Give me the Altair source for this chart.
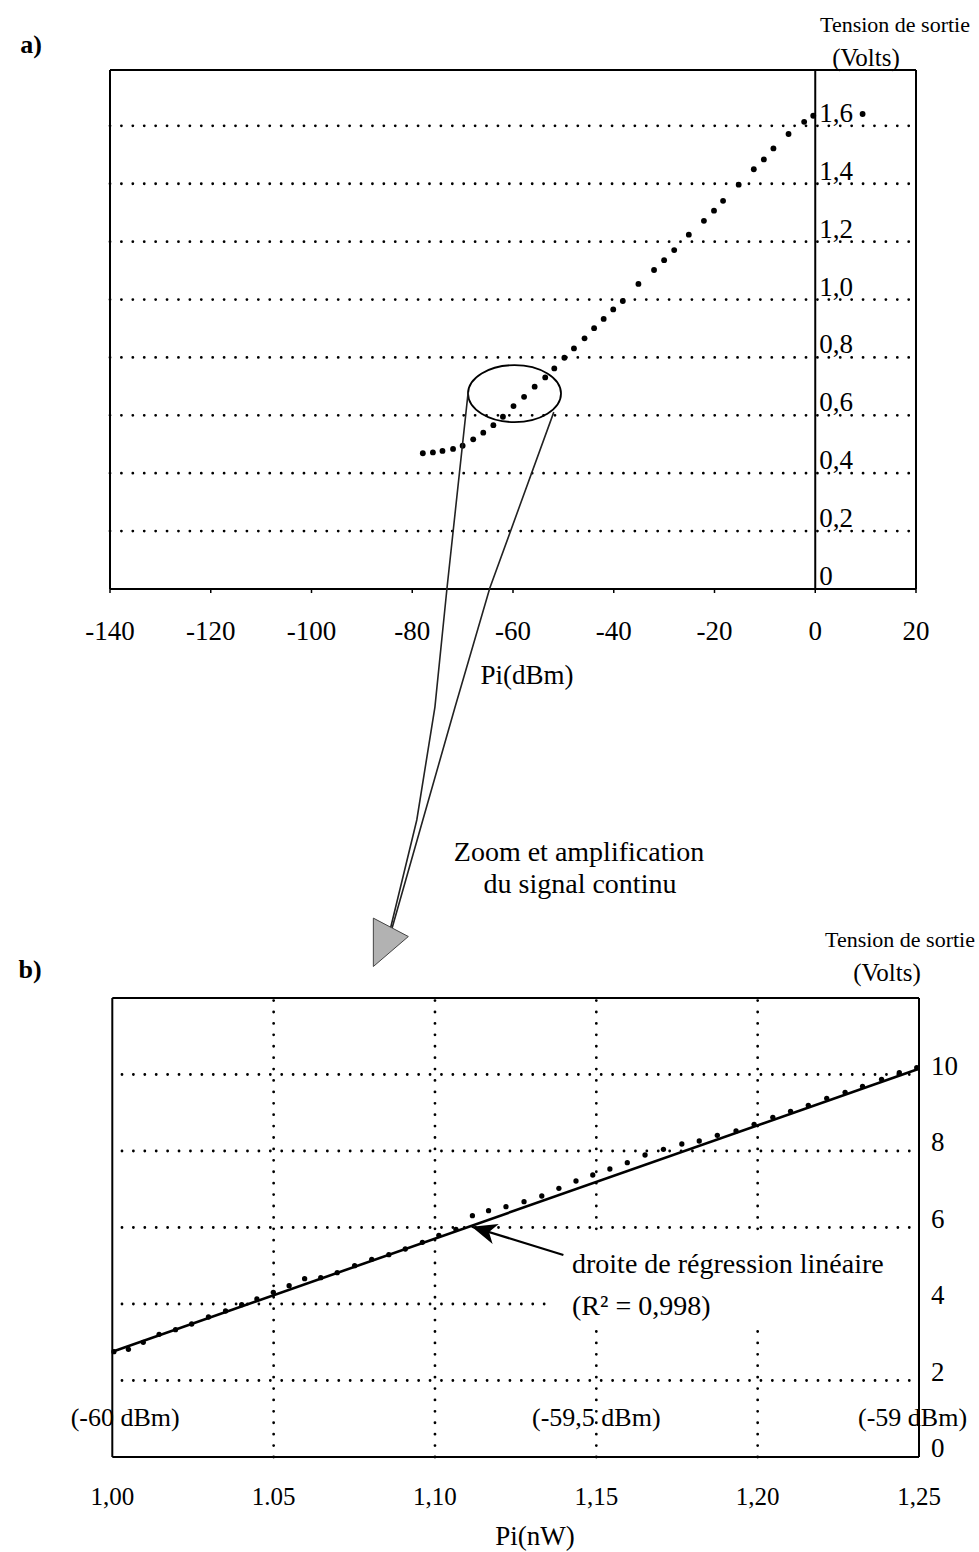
import altair as alt
import pandas as pd

SERIF = "Liberation Serif"

# ---------------- a) output voltage vs input power (dBm) ----------------
a_pi_dbm = [-77.9, -75.9, -74.0, -71.9, -70.0, -67.9, -65.9, -63.9, -62.0, -59.9,
            -57.8, -55.7, -53.6, -51.8, -49.8, -47.9, -45.8, -43.9, -42.0, -40.1,
            -38.2, -35.1, -32.0, -30.0, -28.0, -25.1, -22.1, -20.1, -18.3, -15.2,
            -12.2, -10.2, -8.3, -5.3, -2.2, -0.4, 9.4]
a_volts = [0.469, 0.472, 0.477, 0.484, 0.495, 0.517, 0.540, 0.566, 0.595, 0.632,
           0.664, 0.699, 0.731, 0.762, 0.799, 0.831, 0.866, 0.901, 0.933, 0.966,
           0.995, 1.054, 1.102, 1.136, 1.171, 1.224, 1.272, 1.307, 1.341, 1.397,
           1.450, 1.484, 1.522, 1.572, 1.614, 1.635, 1.641]

a_x_domain = [-140, 20]
a_y_domain = [0, 1.793]
a_x_ticks = [-140, -120, -100, -80, -60, -40, -20, 0, 20]
a_x_labels = ["-140", "-120", "-100", "-80", "-60", "-40", "-20", "0", "20"]
a_y_ticks = [0, 0.2, 0.4, 0.6, 0.8, 1.0, 1.2, 1.4, 1.6]
a_y_labels = ["0", "0,2", "0,4", "0,6", "0,8", "1,0", "1,2", "1,4", "1,6"]

# zoom call-out (panel a units): ellipse, two connector strokes, shaded head
callout_x = [-59.7]
callout_y = [0.675]
link_left_x = [-68.9, -73.1, -75.5, -79.1, -84.4]
link_left_y = [0.680, 0.0035, -0.408, -0.798, -1.178]
link_right_x = [-51.9, -64.6, -71.5, -77.9, -84.0]
link_right_y = [0.611, 0.0035, -0.408, -0.798, -1.171]
head_x = [-85.4]
head_y = [-1.212]

# ---------------- b) zoom on the -60 .. -59 dBm range (nW) ----------------
b_pi_nw = [1.0005, 1.0050, 1.0096, 1.0145, 1.0196, 1.0246, 1.0298, 1.0351, 1.0401, 1.0448,
           1.0499, 1.0548, 1.0596, 1.0646, 1.0697, 1.0751, 1.0804, 1.0857, 1.0908, 1.0961,
           1.1012, 1.1065, 1.1116, 1.1166, 1.1220, 1.1276, 1.1331, 1.1384, 1.1437, 1.1489,
           1.1542, 1.1596, 1.1651, 1.1708, 1.1765, 1.1819, 1.1875, 1.1933, 1.1989, 1.2047,
           1.2102, 1.2157, 1.2214, 1.2271, 1.2325, 1.2384, 1.2439, 1.2493]
b_volts = [2.753, 2.816, 2.999, 3.208, 3.328, 3.477, 3.660, 3.817, 3.982, 4.131,
           4.306, 4.478, 4.661, 4.688, 4.818, 5.001, 5.169, 5.289, 5.438, 5.613,
           5.796, 5.953, 6.308, 6.439, 6.544, 6.675, 6.824, 7.025, 7.216, 7.373,
           7.529, 7.694, 7.895, 8.044, 8.183, 8.261, 8.410, 8.523, 8.698, 8.881,
           9.038, 9.195, 9.378, 9.535, 9.692, 9.875, 10.047, 10.178]
fit_x = [1.00, 1.25]
fit_y = [2.75, 10.15]

b_x_domain = [1.0, 1.25]
b_y_domain = [0, 12]
b_x_ticks = [1.00, 1.05, 1.10, 1.15, 1.20, 1.25]
b_x_labels = ["1,00", "1.05", "1,10", "1,15", "1,20", "1,25"]
b_y_ticks = [0, 2, 4, 6, 8, 10]
b_y_labels = ["0", "2", "4", "6", "8", "10"]
b_dbm_x = [1.004, 1.15, 1.248]
b_dbm_labels = ["(-60 dBm)", "(-59,5 dBm)", "(-59 dBm)"]

# arrow pointing at the regression line (tail, tip)
fit_arrow_x = [1.1398, 1.1114]
fit_arrow_y = [5.281, 6.021]
# blank backing behind the regression caption
caption_box_x = [1.1355, 1.2485]
caption_box_y = [3.40, 5.73]

# ---------------- scales ----------------
XA = alt.Scale(domain=a_x_domain, range=[110, 916], nice=False, zero=False)
YA = alt.Scale(domain=a_y_domain, range=[589, 70], nice=False, zero=False)
XB = alt.Scale(domain=b_x_domain, range=[112.3, 919], nice=False, zero=False)
YB = alt.Scale(domain=b_y_domain, range=[1457, 998], nice=False, zero=False)


def qx(field, scale):
    return alt.X(field, type="quantitative", scale=scale, axis=None)


def qy(field, scale):
    return alt.Y(field, type="quantitative", scale=scale, axis=None)


DOTS = dict(strokeDash=[0.01, 11.4], strokeCap="round", strokeWidth=2.8, color="black")


def frame_df(xd, yd, axis_x=None):
    rows = [
        (xd[0], xd[1], yd[0], yd[0]),
        (xd[0], xd[1], yd[1], yd[1]),
        (xd[0], xd[0], yd[0], yd[1]),
        (xd[1], xd[1], yd[0], yd[1]),
    ]
    if axis_x is not None:
        rows.append((axis_x, axis_x, yd[0], yd[1]))
    return pd.DataFrame(rows, columns=["x", "x2", "y", "y2"])


def rules(df, xs, ys, **style):
    return alt.Chart(df).mark_rule(**style).encode(
        x=qx("x", xs), x2="x2", y=qy("y", ys), y2="y2")


def label(text, x, y, size, align="center", weight="normal"):
    return alt.Chart(pd.DataFrame({"t": [text]})).mark_text(
        font=SERIF, fontSize=size, align=align, baseline="middle",
        fontWeight=weight, color="black"
    ).encode(x=alt.value(x), y=alt.value(y), text="t:N")


# ---------------- panel a ----------------
a_grid = pd.DataFrame({"x": a_x_domain[0], "x2": a_x_domain[1],
                       "y": a_y_ticks[1:], "y2": a_y_ticks[1:]})
a_grid_layer = rules(a_grid, XA, YA, **DOTS)
a_frame_layer = rules(frame_df(a_x_domain, a_y_domain, axis_x=0), XA, YA,
                      color="black", strokeWidth=2)

a_ticks_df = pd.DataFrame({"x": a_x_ticks, "y": 0, "t": a_x_labels})
a_tick_marks = alt.Chart(a_ticks_df).mark_rule(color="black", strokeWidth=1.5).encode(
    x=qx("x", XA), y=qy("y", YA), y2=alt.value(593))
a_tick_text = alt.Chart(a_ticks_df).mark_text(
    font=SERIF, fontSize=27, align="center", baseline="middle", dy=43, color="black"
).encode(x=qx("x", XA), y=qy("y", YA), text="t:N")

a_ylab_df = pd.DataFrame({"x": 0, "y": a_y_ticks, "t": a_y_labels})
a_ylab_text = alt.Chart(a_ylab_df).mark_text(
    font=SERIF, fontSize=27, align="left", baseline="middle", dx=4, dy=-12, color="black"
).encode(x=qx("x", XA), y=qy("y", YA), text="t:N")

a_points = alt.Chart(pd.DataFrame({"x": a_pi_dbm, "y": a_volts})).mark_circle(
    size=34, color="black", opacity=1
).encode(x=qx("x", XA), y=qy("y", YA))

ELLIPSE = ("M1,0 C1,0.3386 0.5523,0.613 0,0.613 C-0.5523,0.613 -1,0.3386 -1,0 "
           "C-1,-0.3386 -0.5523,-0.613 0,-0.613 C0.5523,-0.613 1,-0.3386 1,0 Z")
a_ellipse = alt.Chart(pd.DataFrame({"x": callout_x, "y": callout_y})).mark_point(
    shape=ELLIPSE, size=8649, filled=False, color="black", strokeWidth=1.8, opacity=1
).encode(x=qx("x", XA), y=qy("y", YA))

links = pd.DataFrame({
    "x": link_left_x + link_right_x,
    "y": link_left_y + link_right_y,
    "side": ["l"] * len(link_left_x) + ["r"] * len(link_right_x),
    "k": list(range(len(link_left_x))) + list(range(len(link_right_x))),
})
a_links = alt.Chart(links).mark_line(color="#222", strokeWidth=1.6).encode(
    x=qx("x", XA), y=qy("y", YA), detail="side:N", order="k:Q")

HEAD = "M-0.433,-0.804 L0.863,-0.122 L-0.433,0.989 Z"
a_head = alt.Chart(pd.DataFrame({"x": head_x, "y": head_y})).mark_point(
    shape=HEAD, size=2916, filled=True, fill="#b2b2b2", stroke="#444",
    strokeWidth=1, opacity=1
).encode(x=qx("x", XA), y=qy("y", YA))

panel_a = alt.layer(a_grid_layer, a_frame_layer, a_tick_marks, a_tick_text,
                    a_ylab_text, a_points, a_ellipse, a_links, a_head)

# ---------------- panel b ----------------
b_hgrid = pd.DataFrame({"x": 1.003, "x2": b_x_domain[1],
                        "y": b_y_ticks[1:], "y2": b_y_ticks[1:]})
b_vgrid = pd.DataFrame({"x": b_x_ticks[1:-1], "x2": b_x_ticks[1:-1],
                        "y": b_y_domain[0], "y2": b_y_domain[1]})
b_grid_layer = rules(pd.concat([b_hgrid, b_vgrid], ignore_index=True), XB, YB, **DOTS)

b_caption_box = alt.Chart(pd.DataFrame({
    "x": [caption_box_x[0]], "x2": [caption_box_x[1]],
    "y": [caption_box_y[0]], "y2": [caption_box_y[1]]})).mark_rect(
    color="white", opacity=1
).encode(x=qx("x", XB), x2="x2", y=qy("y", YB), y2="y2")

b_frame_layer = rules(frame_df(b_x_domain, b_y_domain), XB, YB,
                      color="black", strokeWidth=2)

b_xlab_df = pd.DataFrame({"x": b_x_ticks, "y": 0, "t": b_x_labels})
b_xlab_text = alt.Chart(b_xlab_df).mark_text(
    font=SERIF, fontSize=25, align="center", baseline="middle", dy=40, color="black"
).encode(x=qx("x", XB), y=qy("y", YB), text="t:N")

b_ylab_df = pd.DataFrame({"x": b_x_domain[1], "y": b_y_ticks, "t": b_y_labels})
b_ylab_text = alt.Chart(b_ylab_df).mark_text(
    font=SERIF, fontSize=27, align="left", baseline="middle", dx=12, dy=-8, color="black"
).encode(x=qx("x", XB), y=qy("y", YB), text="t:N")

b_dbm_df = pd.DataFrame({"x": b_dbm_x, "y": 0, "t": b_dbm_labels})
b_dbm_text = alt.Chart(b_dbm_df).mark_text(
    font=SERIF, fontSize=26, align="center", baseline="middle", dy=-39, color="black"
).encode(x=qx("x", XB), y=qy("y", YB), text="t:N")

b_points = alt.Chart(pd.DataFrame({"x": b_pi_nw, "y": b_volts})).mark_circle(
    size=28, color="black", opacity=1
).encode(x=qx("x", XB), y=qy("y", YB))

b_fit = alt.Chart(pd.DataFrame({"x": fit_x, "y": fit_y})).mark_line(
    color="black", strokeWidth=2.6
).encode(x=qx("x", XB), y=qy("y", YB))

b_arrow_shaft = alt.Chart(pd.DataFrame({
    "x": [fit_arrow_x[0]], "x2": [fit_arrow_x[1]],
    "y": [fit_arrow_y[0]], "y2": [fit_arrow_y[1]]})).mark_rule(
    color="black", strokeWidth=2.2
).encode(x=qx("x", XB), x2="x2", y=qy("y", YB), y2="y2")

ARROW = "M0,0 L-0.42,1 L0,0.72 L0.42,1 Z"
b_arrow_head = alt.Chart(pd.DataFrame({"x": [fit_arrow_x[1]], "y": [fit_arrow_y[1]]})).mark_point(
    shape=ARROW, size=2500, angle=287, filled=True, color="black", opacity=1
).encode(x=qx("x", XB), y=qy("y", YB))

panel_b = alt.layer(b_grid_layer, b_caption_box, b_frame_layer, b_xlab_text, b_ylab_text,
                    b_dbm_text, b_points, b_fit, b_arrow_shaft, b_arrow_head)

# ---------------- titles and captions ----------------
captions = alt.layer(
    label("a)", 31, 45, 26, weight="bold"),
    label("Tension de sortie", 895, 25, 22),
    label("(Volts)", 866, 58, 25),
    label("Pi(dBm)", 527, 676, 27),
    label("Zoom et amplification", 579, 853, 28),
    label("du signal continu", 580, 885, 28),
    label("b)", 30, 970, 26, weight="bold"),
    label("Tension de sortie", 900, 940, 22),
    label("(Volts)", 887, 973, 25),
    label("droite de régression linéaire", 572, 1265, 28, align="left"),
    label("(R² = 0,998)", 572, 1307, 28, align="left"),
    label("Pi(nW)", 535, 1537, 27),
)

chart = alt.layer(panel_a, panel_b, captions).resolve_scale(
    x="independent", y="independent"
).properties(
    width=979, height=1552, padding=0,
    autosize=alt.AutoSizeParams(type="none"),
    background="white",
).configure_view(stroke=None)

chart.save("out.html", embed_options={"renderer": "svg", "actions": False})
